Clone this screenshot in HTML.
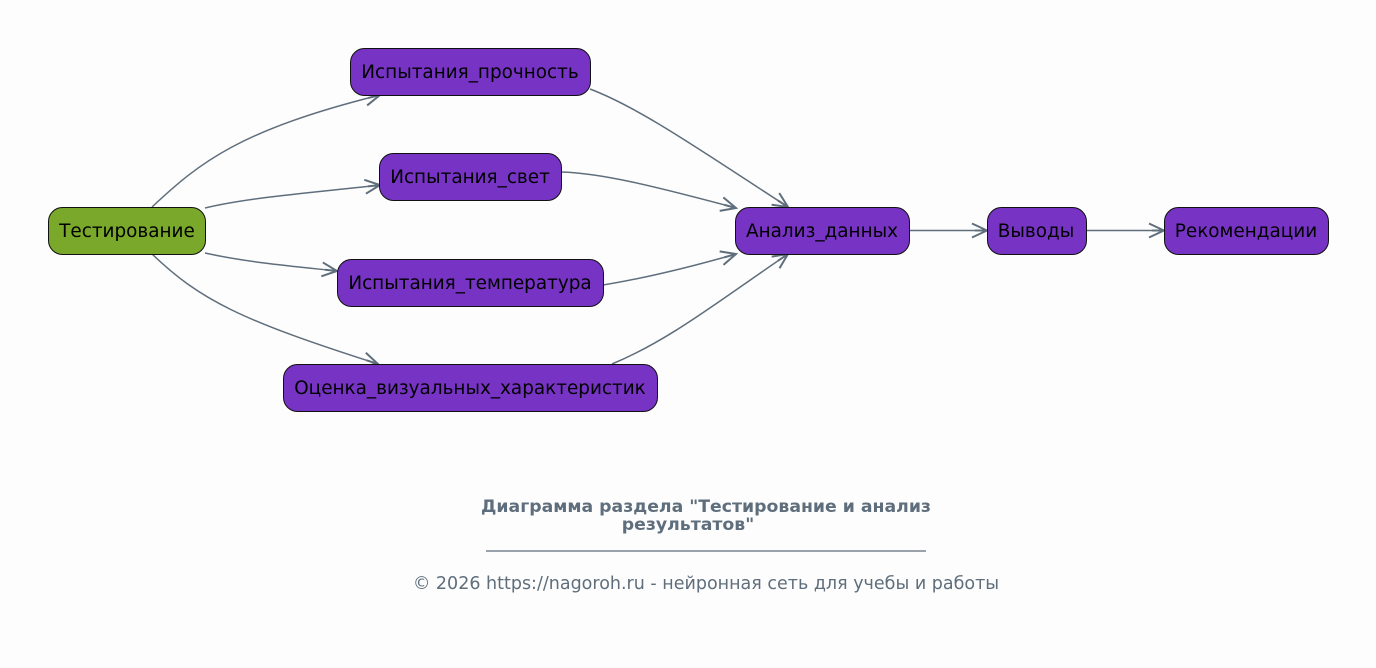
<!DOCTYPE html>
<html><head><meta charset="utf-8"><style>
html,body{margin:0;padding:0;background:#fdfdfd;}
svg{display:block;}
text{font-family:"DejaVu Sans","Liberation Sans",sans-serif;}
</style></head><body>
<svg width="1376" height="668" viewBox="0 0 1376 668" xmlns="http://www.w3.org/2000/svg">
<defs>
<marker id="a" viewBox="0 0 20 20" refX="18" refY="10" markerWidth="20" markerHeight="20" markerUnits="userSpaceOnUse" orient="auto">
<path d="M3,3 L18,10 L3,17 M6,10 L18,10" fill="none" stroke="#5f6e7c" stroke-width="2"/>
</marker>
</defs>
<g fill="none" stroke="#5f6e7c" stroke-width="1.5" marker-end="url(#a)">
<path d="M152,207 C200,162 240,130 380,95"/>
<path d="M205,208 C250,197 320,192 380,185"/>
<path d="M205,253 C250,263 300,267 337,271"/>
<path d="M152,254 C200,300 240,320 378,364"/>
<path d="M590,89 C640,108 700,150 788,207"/>
<path d="M561,172 C600,173 650,185 736,208"/>
<path d="M603,285 C640,279 680,270 736,254"/>
<path d="M612,364 C670,340 720,300 788,254"/>
<path d="M909,230.5 L987,230.5"/>
<path d="M1086,230.5 L1164,230.5"/>
</g>
<g stroke="#111" stroke-width="1">
<rect x="48.5" y="207.5" width="157" height="47" rx="14" fill="#79a82a"/>
<rect x="350.5" y="48.5" width="240" height="47" rx="14" fill="#7733c4"/>
<rect x="379.5" y="153.5" width="182" height="47" rx="14" fill="#7733c4"/>
<rect x="337.5" y="259.5" width="266" height="47" rx="14" fill="#7733c4"/>
<rect x="283.5" y="364.5" width="374" height="47" rx="14" fill="#7733c4"/>
<rect x="735.5" y="207.5" width="174" height="47" rx="14" fill="#7733c4"/>
<rect x="987.5" y="207.5" width="99" height="47" rx="14" fill="#7733c4"/>
<rect x="1164.5" y="207.5" width="164" height="47" rx="14" fill="#7733c4"/>
</g>
<g font-size="18.4" fill="#000" text-anchor="middle">
<text x="127" y="237">Тестирование</text>
<text x="470" y="78">Испытания_прочность</text>
<text x="470" y="183">Испытания_свет</text>
<text x="470" y="289">Испытания_температура</text>
<text x="470" y="394">Оценка_визуальных_характеристик</text>
<text x="822" y="237">Анализ_данных</text>
<text x="1036" y="237">Выводы</text>
<text x="1246" y="237">Рекомендации</text>
</g>
<g fill="#5f6e7c" text-anchor="middle">
<text x="706" y="512" font-size="17.3" font-weight="bold">Диаграмма раздела "Тестирование и анализ</text>
<text x="688" y="530" font-size="17.3" font-weight="bold">результатов"</text>
<line x1="486" y1="551" x2="926" y2="551" stroke="#5f6e7c" stroke-width="1.2"/>
<text x="706" y="589" font-size="17.5">© 2026 https://nagoroh.ru - нейронная сеть для учебы и работы</text>
</g>
</svg>
</body></html>
